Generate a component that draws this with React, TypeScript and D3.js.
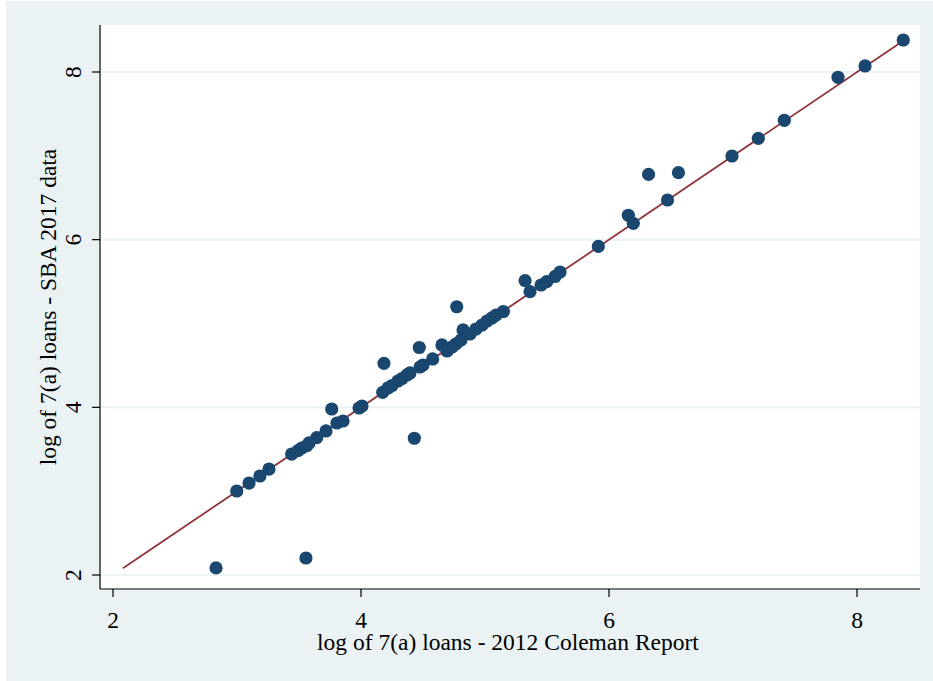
import React from "react";
import * as d3 from "d3";

// log of 7(a) loans: 2012 Coleman Report (x) vs SBA 2017 data (y)
const colemanLog = [
  2.831, 3.556, 2.998, 3.097, 3.185, 3.258, 3.441, 3.492, 3.522, 3.562,
  3.581, 3.643, 3.718, 3.764, 3.806, 3.855, 3.984, 4.008, 4.185, 4.175,
  4.218, 4.25, 4.298, 4.331, 4.371, 4.395, 4.43, 4.47, 4.476, 4.5,
  4.578, 4.653, 4.694, 4.734, 4.766, 4.772, 4.806, 4.823, 4.879, 4.927,
  4.976, 5.016, 5.056, 5.089, 5.148, 5.323, 5.363, 5.452, 5.498, 5.565,
  5.605, 5.914, 6.156, 6.196, 6.319, 6.472, 6.56, 6.992, 7.204, 7.414,
  7.847, 8.065, 8.373,
];
const sbaLog = [
  2.084, 2.203, 3.002, 3.097, 3.181, 3.264, 3.443, 3.483, 3.515, 3.542,
  3.575, 3.638, 3.718, 3.98, 3.813, 3.837, 3.992, 4.016, 4.525, 4.179,
  4.231, 4.26, 4.314, 4.344, 4.386, 4.41, 3.631, 4.714, 4.481, 4.505,
  4.577, 4.744, 4.672, 4.72, 4.756, 5.2, 4.803, 4.923, 4.875, 4.934,
  4.982, 5.03, 5.066, 5.1, 5.143, 5.511, 5.38, 5.459, 5.499, 5.561,
  5.614, 5.919, 6.291, 6.195, 6.778, 6.473, 6.799, 6.998, 7.209, 7.424,
  7.937, 8.072, 8.382,
];
// 45-degree reference line endpoints
const lineX = [2.08, 8.38];
const lineY = [2.08, 8.38];

const xTicks = [2, 4, 6, 8];
const yTicks = [2, 4, 6, 8];

const xTitle = "log of 7(a) loans - 2012 Coleman Report";
const yTitle = "log of 7(a) loans - SBA 2017 data";

const W = 933;
const H = 681;
const plot = { left: 100, right: 920, top: 25, bottom: 589 };

const BG = "#eaf2f3";
const NAVY = "#1a476f";
const MAROON = "#90353b";
const FONT = "'Liberation Serif', 'Times New Roman', serif";
const FS = 23.5;

export default function App() {
  const x = d3.scaleLinear().domain([2, 8]).range([113, 857]);
  const y = d3.scaleLinear().domain([2, 8]).range([575, 72]);

  const points = colemanLog.map((v, i) => ({ x: v, y: sbaLog[i] }));
  const linePts = lineX.map((v, i) => [v, lineY[i]] as [number, number]);
  const linePath = d3
    .line<[number, number]>()
    .x((d) => x(d[0]))
    .y((d) => y(d[1]))(linePts) as string;

  return (
    <svg
      width={W}
      height={H}
      style={{ position: "absolute", left: 0, top: 0, display: "block" }}
      fontFamily={FONT}
    >
      <rect x={0} y={0} width={W} height={H} fill="#ffffff" />
      <rect x={6} y={1} width={W - 6} height={H - 1} fill={BG} />
      <rect
        x={plot.left}
        y={plot.top}
        width={plot.right - plot.left}
        height={plot.bottom - plot.top}
        fill="#ffffff"
      />

      {/* horizontal grid */}
      {yTicks.map((t) => (
        <line
          key={"g" + t}
          x1={plot.left}
          x2={plot.right}
          y1={y(t)}
          y2={y(t)}
          stroke={BG}
          strokeWidth={2}
        />
      ))}

      {/* fitted line */}
      <path d={linePath} fill="none" stroke={MAROON} strokeWidth={1.8} />

      {/* scatter */}
      {points.map((p, i) => (
        <circle key={i} cx={x(p.x)} cy={y(p.y)} r={6.6} fill={NAVY} />
      ))}

      {/* y axis */}
      <line x1={plot.left} x2={plot.left} y1={plot.top} y2={plot.bottom} stroke="#000" strokeWidth={1.2} />
      {yTicks.map((t) => (
        <g key={"yt" + t}>
          <line x1={plot.left - 8} x2={plot.left} y1={y(t)} y2={y(t)} stroke="#000" strokeWidth={1.2} />
          <text
            transform={`translate(81,${y(t)}) rotate(-90)`}
            textAnchor="middle"
            fontSize={FS}
            fill="#000"
          >
            {t}
          </text>
        </g>
      ))}
      <text
        transform={`translate(56,${(plot.top + plot.bottom) / 2}) rotate(-90)`}
        textAnchor="middle"
        fontSize={FS}
        fill="#000"
      >
        {yTitle}
      </text>

      {/* x axis */}
      <line x1={plot.left} x2={plot.right} y1={plot.bottom} y2={plot.bottom} stroke="#000" strokeWidth={1.2} />
      {xTicks.map((t) => (
        <g key={"xt" + t}>
          <line x1={x(t)} x2={x(t)} y1={plot.bottom} y2={plot.bottom + 8} stroke="#000" strokeWidth={1.2} />
          <text x={x(t)} y={628} textAnchor="middle" fontSize={FS} fill="#000">
            {t}
          </text>
        </g>
      ))}
      <text x={508} y={650} textAnchor="middle" fontSize={FS} fill="#000">
        {xTitle}
      </text>
    </svg>
  );
}
